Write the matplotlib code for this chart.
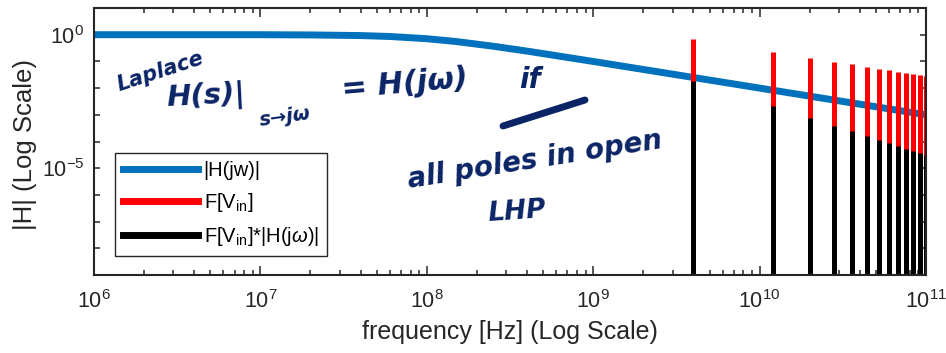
import numpy as np
import matplotlib
matplotlib.use('Agg')
import matplotlib.pyplot as plt
from matplotlib.lines import Line2D
from matplotlib.ticker import LogLocator, NullFormatter, FixedLocator

plt.rcParams['font.family'] = ['Liberation Sans', 'DejaVu Sans']
plt.rcParams['mathtext.fontset'] = 'custom'
plt.rcParams['mathtext.rm'] = 'Liberation Sans'
plt.rcParams['mathtext.it'] = 'Liberation Sans:italic'
plt.rcParams['axes.unicode_minus'] = False

# |H(jw)|
h_freq = [1e6, 1e7, 2e7, 4e7, 6e7, 1e8, 1.5e8, 2.5e8, 4e8, 7e8, 1e9, 3e9, 1e10, 3e10, 1e11]
h_mag = [1.0, 1.0, 0.98, 0.928, 0.857, 0.707, 0.555, 0.371, 0.243, 0.141, 0.0995, 0.0333, 0.01, 0.00333, 0.001]

# spectral lines of the input (red) and filtered output (black)
line_freq = [4e9, 12e9, 20e9, 28e9, 36e9, 44e9, 52e9, 60e9, 68e9, 76e9, 84e9, 92e9, 100e9]
vin_mag = [0.69, 0.23, 0.138, 0.0986, 0.0767, 0.0627, 0.0531, 0.046, 0.0406, 0.0363, 0.0329, 0.03, 0.0276]
out_mag = [0.0184, 0.00217, 7.76e-4, 3.91e-4, 2.41e-4, 1.61e-4, 1.18e-4, 8.87e-5, 6.85e-5,
           5.46e-5, 4.48e-5, 3.77e-5, 3.18e-5]

blue = '#0072BD'
ink = '#0b2465'
floor = 1e-9

fig = plt.figure(figsize=(9.46, 3.53), dpi=100)
ax = fig.add_axes([94/946, 78/353, 832/946, 267/353])

ax.plot(h_freq, h_mag, color=blue, lw=5, solid_capstyle='butt')
ax.vlines(line_freq, floor, vin_mag, color='#ff0000', lw=3.6)
ax.vlines(line_freq, floor, out_mag, color='black', lw=3.6)

ax.set_xscale('log')
ax.set_yscale('log')
ax.set_xlim(1e6, 1e11)
ax.set_ylim(1e-9, 10)

ax.xaxis.set_major_locator(LogLocator(base=10, numticks=20))
ax.xaxis.set_minor_locator(LogLocator(base=10, subs=np.arange(2, 10), numticks=50))
ax.xaxis.set_minor_formatter(NullFormatter())
ax.yaxis.set_major_locator(FixedLocator([1e-5, 1e0]))
ax.yaxis.set_minor_locator(FixedLocator([10.0**k for k in range(-9, 2)]))
ax.yaxis.set_minor_formatter(NullFormatter())

ax.tick_params(which='both', direction='in', top=True, right=True, colors='#262626',
               labelsize=15.5, width=1.1)
ax.tick_params(axis='x', which='major', length=6.5, pad=11)
ax.tick_params(axis='x', which='minor', length=3.3)
ax.tick_params(axis='y', which='both', length=4.3, pad=7)
for s in ax.spines.values():
    s.set_linewidth(1.5)
    s.set_color('#262626')

ax.set_xlabel('frequency [Hz] (Log Scale)', fontsize=18, color='#262626', labelpad=5)
ax.set_ylabel('|H| (Log Scale)', fontsize=18.5, color='#262626')
ax.yaxis.set_label_coords(-0.068, 0.49)

handles = [Line2D([], [], color=blue, lw=5),
           Line2D([], [], color='#ff0000', lw=5),
           Line2D([], [], color='black', lw=5)]
labels = ['|H(jw)|', 'F[V$_{\\mathrm{in}}$]', 'F[V$_{\\mathrm{in}}$]*|H(j$\\omega$)|']
leg = ax.legend(handles, labels, loc='upper left', bbox_to_anchor=(0.0252, 0.457),
                fontsize=14.5, handlelength=3.7, handletextpad=0.3, labelspacing=0.55,
                borderpad=0.4, borderaxespad=0, fancybox=False, framealpha=1,
                edgecolor='#262626')
leg.get_frame().set_linewidth(1.0)

# handwritten notes
def note(x, y, s, size, rot=0):
    fig.text(x/946, 1 - y/353, s, fontsize=size, rotation=rot, color=ink,
             ha='center', va='center', fontstyle='italic', fontweight='bold',
             family=['DejaVu Sans'])

note(160, 72, 'Laplace', 15, 18)
note(206, 96, 'H(s)|', 21, 3)
note(285, 117, 's\u2192j\u03c9', 14, 8)
note(405, 84, '= H(j\u03c9)', 22, 5)
note(530, 80, 'if', 20, 0)
note(535, 160, 'all poles in open', 20, 9)
note(517, 212, 'LHP', 19, 4)
fig.add_artist(Line2D([503/946, 585/946], [1 - 126/353, 1 - 100/353], color=ink, lw=5,
                      solid_capstyle='round', transform=fig.transFigure))

fig.savefig('out.png', dpi=100)
